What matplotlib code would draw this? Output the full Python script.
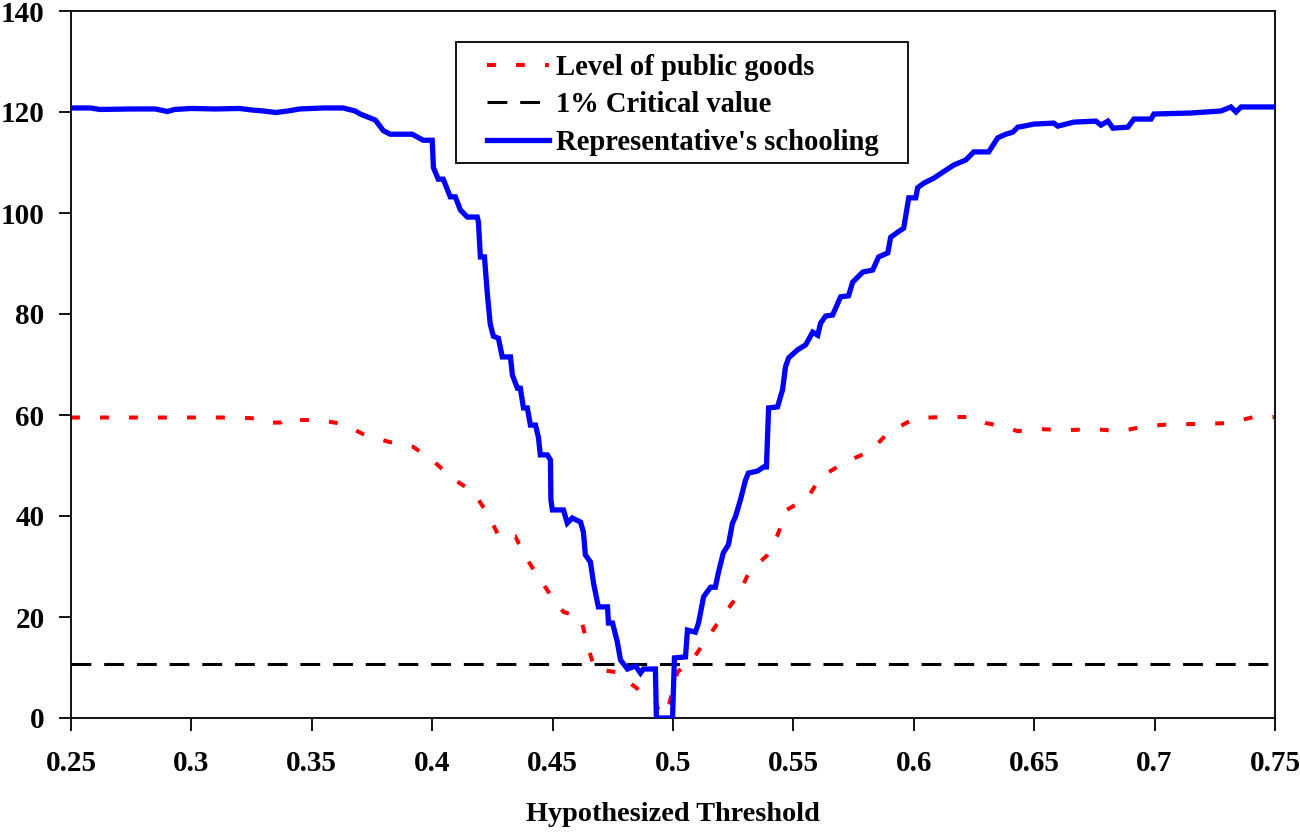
import numpy as np
import matplotlib
matplotlib.use('Agg')
import matplotlib.pyplot as plt
from matplotlib.patches import Rectangle

# -------------------------
# Data
# -------------------------
school_x = [0.25, 0.258, 0.262, 0.275, 0.285, 0.29, 0.293, 0.30, 0.31, 0.32, 0.325, 0.33,
            0.335, 0.34, 0.345, 0.355, 0.363, 0.368, 0.3701, 0.3764, 0.3797, 0.3826, 0.3917,
            0.3963, 0.4000, 0.4005, 0.4025, 0.4046, 0.4075, 0.4096, 0.4117, 0.4146, 0.4187,
            0.4192, 0.4200, 0.4217, 0.4229, 0.4241, 0.4254, 0.4275, 0.4291, 0.4325, 0.4333,
            0.4354, 0.4366, 0.4379, 0.4395, 0.4408, 0.4429, 0.4441, 0.4449, 0.4478, 0.4491,
            0.4493, 0.4499, 0.4545, 0.4561, 0.4582, 0.4616, 0.4628, 0.4636, 0.4657, 0.4670,
            0.4690, 0.4728, 0.4732, 0.4749, 0.4769, 0.4782, 0.4811, 0.4844, 0.4865, 0.4877,
            0.4927, 0.4931, 0.4998, 0.5006, 0.5052, 0.5060, 0.5093, 0.5106, 0.5127, 0.5156,
            0.5176, 0.5188, 0.5209, 0.5230, 0.5247, 0.5259, 0.5280, 0.5301, 0.5313, 0.5351,
            0.5376, 0.5388, 0.5397, 0.5434, 0.5455, 0.5467, 0.5480, 0.5517, 0.5551, 0.5580,
            0.5601, 0.5613, 0.5634, 0.5663, 0.5696, 0.5729, 0.5746, 0.5788, 0.5829, 0.5854,
            0.5892, 0.5904, 0.5933, 0.5958, 0.5979, 0.6008, 0.6016, 0.6041, 0.6083, 0.6124,
            0.6166, 0.6216, 0.6249, 0.6311, 0.6349, 0.6382, 0.6411, 0.6432, 0.6457, 0.6498,
            0.6581, 0.6598, 0.6665, 0.6756, 0.6777, 0.6806, 0.6827, 0.6889, 0.6914, 0.6985,
            0.6997, 0.7151, 0.7276, 0.7317, 0.7338, 0.7359, 0.75]
school_y = [120.8, 120.8, 120.5, 120.6, 120.6, 120.1, 120.5, 120.7, 120.6, 120.7, 120.4, 120.2,
            119.9, 120.2, 120.6, 120.8, 120.8, 120.2, 119.6, 118.4, 116.3, 115.6, 115.6,
            114.4, 114.4, 109.0, 106.7, 106.7, 103.2, 103.2, 100.6, 99.2, 99.2,
            98.2, 91.3, 91.3, 84.0, 78.0, 75.6, 75.2, 71.5, 71.5, 67.9,
            65.3, 65.3, 61.4, 61.4, 58.0, 58.0, 55.6, 52.1, 52.1, 51.1,
            43.2, 41.2, 41.2, 38.6, 39.6, 38.8, 36.8, 32.3, 30.9, 26.7,
            22.0, 22.0, 18.8, 18.8, 15.0, 11.5, 9.7, 10.3, 8.9, 9.7,
            9.7, 0.0, 0.0, 11.9, 12.1, 17.4, 17.0, 18.8, 24.0, 25.9,
            25.9, 28.7, 32.7, 34.3, 38.6, 39.8, 43.2, 47.1, 48.5, 48.9,
            49.7, 49.7, 61.4, 61.6, 65.0, 69.5, 71.3, 72.9, 73.9, 76.4,
            75.8, 78.2, 79.6, 79.8, 83.4, 83.6, 86.3, 88.3, 88.7, 91.3,
            92.1, 95.2, 96.2, 97.0, 103.0, 103.0, 105.0, 105.9, 106.9, 108.2,
            109.5, 110.5, 112.1, 112.1, 114.9, 115.6, 116.0, 117.0, 117.2, 117.6,
            117.8, 117.2, 118.0, 118.2, 117.4, 118.2, 116.8, 117.0, 118.6, 118.6,
            119.6, 119.8, 120.2, 121.0, 120.0, 121.0, 121.0]

goods_x = [0.25, 0.26, 0.28, 0.30, 0.32, 0.327, 0.33, 0.337, 0.34, 0.345, 0.3535, 0.3630,
           0.3714, 0.3818, 0.3921, 0.4009, 0.4088, 0.4171, 0.4233, 0.4279, 0.4345, 0.4379,
           0.4429, 0.4491, 0.4545, 0.4616, 0.4645, 0.4674, 0.4761, 0.4844, 0.4927, 0.495,
           0.4985, 0.5019, 0.5081, 0.5143, 0.5197, 0.5272, 0.5318, 0.5389, 0.5434, 0.5472,
           0.5559, 0.5613, 0.5709, 0.5821, 0.5896, 0.6008, 0.6120, 0.625, 0.630, 0.636,
           0.6432, 0.6527, 0.6640, 0.6748, 0.6860, 0.6964, 0.7076, 0.7188, 0.7305, 0.7413, 0.75]
goods_y = [59.5, 59.5, 59.5, 59.5, 59.5, 59.3, 58.5, 58.5, 59.5, 59.0, 59.0, 58.2,
           56.2, 54.7, 53.7, 50.7, 47.3, 44.8, 40.2, 35.8, 36.0, 32.6,
           28.8, 24.4, 21.0, 20.0, 14.5, 9.7, 9.1, 6.1, 3.0, 0.5,
           3.0, 9.1, 11.6, 15.8, 19.6, 24.4, 29.1, 32.1, 36.2, 41.2,
           43.6, 47.7, 50.5, 52.9, 56.6, 59.4, 59.6, 59.6, 58.4, 57.8,
           56.8, 57.2, 57.0, 57.2, 56.8, 57.8, 58.2, 58.2, 58.4, 59.6, 59.6]

crit_x = [0.25, 0.75]
crit_y = [10.6, 10.6]

x_ticks = [0.25, 0.3, 0.35, 0.4, 0.45, 0.5, 0.55, 0.6, 0.65, 0.7, 0.75]
x_tick_labels = ['0.25', '0.3', '0.35', '0.4', '0.45', '0.5', '0.55', '0.6', '0.65', '0.7', '0.75']
y_ticks = [0, 20, 40, 60, 80, 100, 120, 140]

# -------------------------
# Figure
# -------------------------
plt.rcParams['font.family'] = ['Liberation Serif', 'DejaVu Serif']
plt.rcParams['font.weight'] = 'bold'

W, H = 1300, 832
fig = plt.figure(figsize=(13, 8.32), dpi=100)
ax = fig.add_axes([71 / W, 1 - 718 / H, (1275 - 71) / W, (718 - 11) / H])

ax.plot(goods_x, goods_y, color='#ff0000', linewidth=2.9, dashes=(2.2, 5.0),
        dash_capstyle='butt', label='Level of public goods', zorder=2)
ax.plot(crit_x, crit_y, color='black', linewidth=2.2, dashes=(6.5, 4.2),
        dash_capstyle='butt', label='1% Critical value', zorder=3)
ax.plot(school_x, school_y, color='#0000ff', linewidth=3.8, solid_joinstyle='miter',
        label="Representative's schooling", zorder=4)

ax.set_xlim(0.25, 0.75)
ax.set_ylim(0, 140)
ax.set_xticks(x_ticks)
ax.set_xticklabels(x_tick_labels)
ax.set_yticks(y_ticks)
ax.tick_params(axis='both', direction='out', length=9, width=1.3, labelsize=21)
ax.tick_params(axis='x', pad=14)
ax.tick_params(axis='y', pad=10)
for lab in ax.get_xticklabels() + ax.get_yticklabels():
    lab.set_fontweight('bold')
for sp in ax.spines.values():
    sp.set_linewidth(1.3)

ax.set_xlabel('Hypothesized Threshold', fontsize=20.3, fontweight='bold', labelpad=18)

# legend: entries without frame, frame drawn as its own box behind them
frame = Rectangle((456 / W, 1 - 163 / H), (908 - 456) / W, (163 - 42) / H,
                  transform=fig.transFigure, facecolor='white', edgecolor='black',
                  linewidth=1.3, zorder=5, clip_on=False)
ax.add_patch(frame)
leg = ax.legend(loc='upper left', bbox_to_anchor=(487 / W, 1 - 54 / H),
                bbox_transform=fig.transFigure, fontsize=20.6, frameon=False,
                handlelength=2.15, handletextpad=0.25, labelspacing=0.36,
                borderpad=0, borderaxespad=0)
for t in leg.get_texts():
    t.set_fontweight('bold')
leg.set_zorder(6)

fig.savefig('out.png', dpi=100, facecolor='white')
